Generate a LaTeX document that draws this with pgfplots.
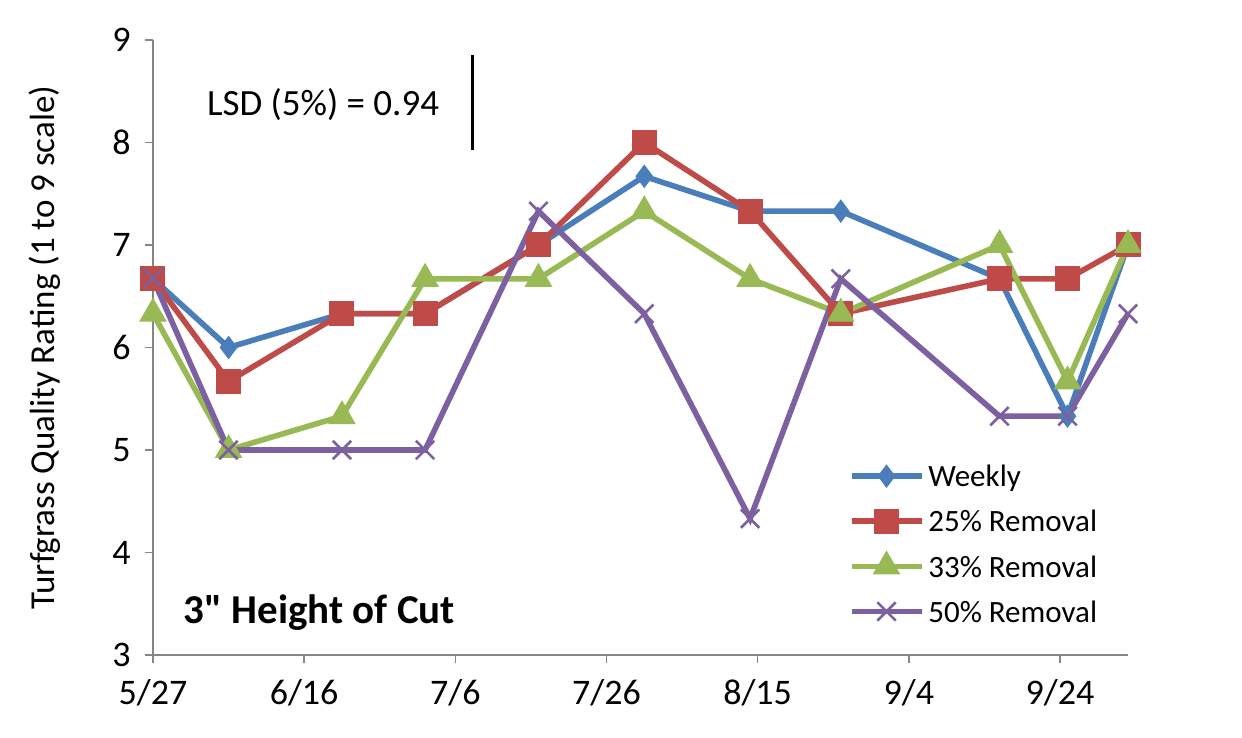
\documentclass[border=0pt]{standalone}
\usepackage{pgfplots}
\pgfplotsset{compat=1.18}
\usepackage{fontspec}
\setmainfont{Carlito}
\newfontfamily\rawfont{Carlito}
\definecolor{cblue}{RGB}{74,126,187}
\definecolor{cred}{RGB}{190,75,72}
\definecolor{cgreen}{RGB}{152,185,84}
\definecolor{cpurple}{RGB}{125,96,160}
\definecolor{caxis}{RGB}{134,134,134}
\begin{document}
\begin{tikzpicture}
\path[use as bounding box] (-76.5pt,-41.5pt) rectangle (544.5pt,327.5pt);
\begin{axis}[
  at={(0pt,0pt)}, anchor=south west,
  scale only axis, width=487.5pt, height=307.5pt,
  xmin=0, xmax=129, ymin=3, ymax=9,
  axis x line*=bottom, axis y line*=left,
  axis line style={caxis, line width=0.8pt},
  xtick={0,20,40,60,80,100,120},
  xticklabels={5/27,6/16,7/6,7/26,8/15,9/4,9/24},
  ytick={3,4,5,6,7,8,9},
  tick style={caxis, line width=0.8pt},
  tick align=outside, major tick length=4pt,
  /pgf/number format/assume math mode=true,
  tick label style={font=\fontsize{18}{21}\selectfont, inner sep=1pt},
  xticklabel style={yshift=-7pt},
  yticklabel style={xshift=-6pt},
  ylabel={Turfgrass Quality Rating (1 to 9 scale)},
  ylabel style={at={(axis description cs:-0.111,0.5)}, anchor=center, font=\fontsize{17.5}{21}\selectfont},
  clip=false,
  legend style={draw=none, fill=none, at={(0.707,0.322)}, anchor=north west,
    font=\fontsize{15.5}{18}\selectfont, row sep=7.75pt,
    nodes={inner sep=2pt, text depth=0pt}},
  legend cell align=left,
  legend image code/.code={\draw[mark repeat=2,mark phase=2] plot coordinates {(0pt,0pt) (17.5pt,0pt) (35pt,0pt)};},
  every axis plot/.append style={line width=2.8pt},
]
\addplot[color=cblue, mark=diamond*, mark size=5.5pt, mark options={solid, fill=cblue, line width=0.5pt}]
  coordinates {(0,6.67) (10,6.0) (25,6.33) (36,6.33) (51,7.0) (65,7.67) (79,7.33) (91,7.33) (112,6.67) (121,5.33) (129,7.0)};
\addlegendentry{Weekly}
\addplot[color=cred, mark=square*, mark size=6pt, mark options={solid, fill=cred, line width=0.5pt}]
  coordinates {(0,6.67) (10,5.67) (25,6.33) (36,6.33) (51,7.0) (65,8.0) (79,7.33) (91,6.33) (112,6.67) (121,6.67) (129,7.0)};
\addlegendentry{25\% Removal}
\addplot[color=cgreen, mark=triangle*, mark size=7.5pt, mark options={solid, fill=cgreen, line width=0.5pt}]
  coordinates {(0,6.33) (10,5.0) (25,5.33) (36,6.67) (51,6.67) (65,7.33) (79,6.67) (91,6.33) (112,7.0) (121,5.67) (129,7.0)};
\addlegendentry{33\% Removal}
\addplot[color=cpurple, mark=x, mark size=6.5pt, mark options={solid, line width=1.3pt}]
  coordinates {(0,6.67) (10,5.0) (25,5.0) (36,5.0) (51,7.33) (65,6.33) (79,4.33) (91,6.67) (112,5.33) (121,5.33) (129,6.33)};
\addlegendentry{50\% Removal}
\node[anchor=west, font=\fontsize{18.5}{22}\selectfont, inner sep=0pt] at (axis cs:7.1,8.37) {LSD (5\%) = 0.94};
\draw[black, line width=1.5pt] (axis cs:42.3,8.854) -- (axis cs:42.3,7.927);
\node[anchor=west, font=\rawfont\fontsize{20.5}{24}\selectfont\bfseries, inner sep=0pt] at (axis cs:4.0,3.41) {3" Height of Cut};
\end{axis}
\end{tikzpicture}
\end{document}
